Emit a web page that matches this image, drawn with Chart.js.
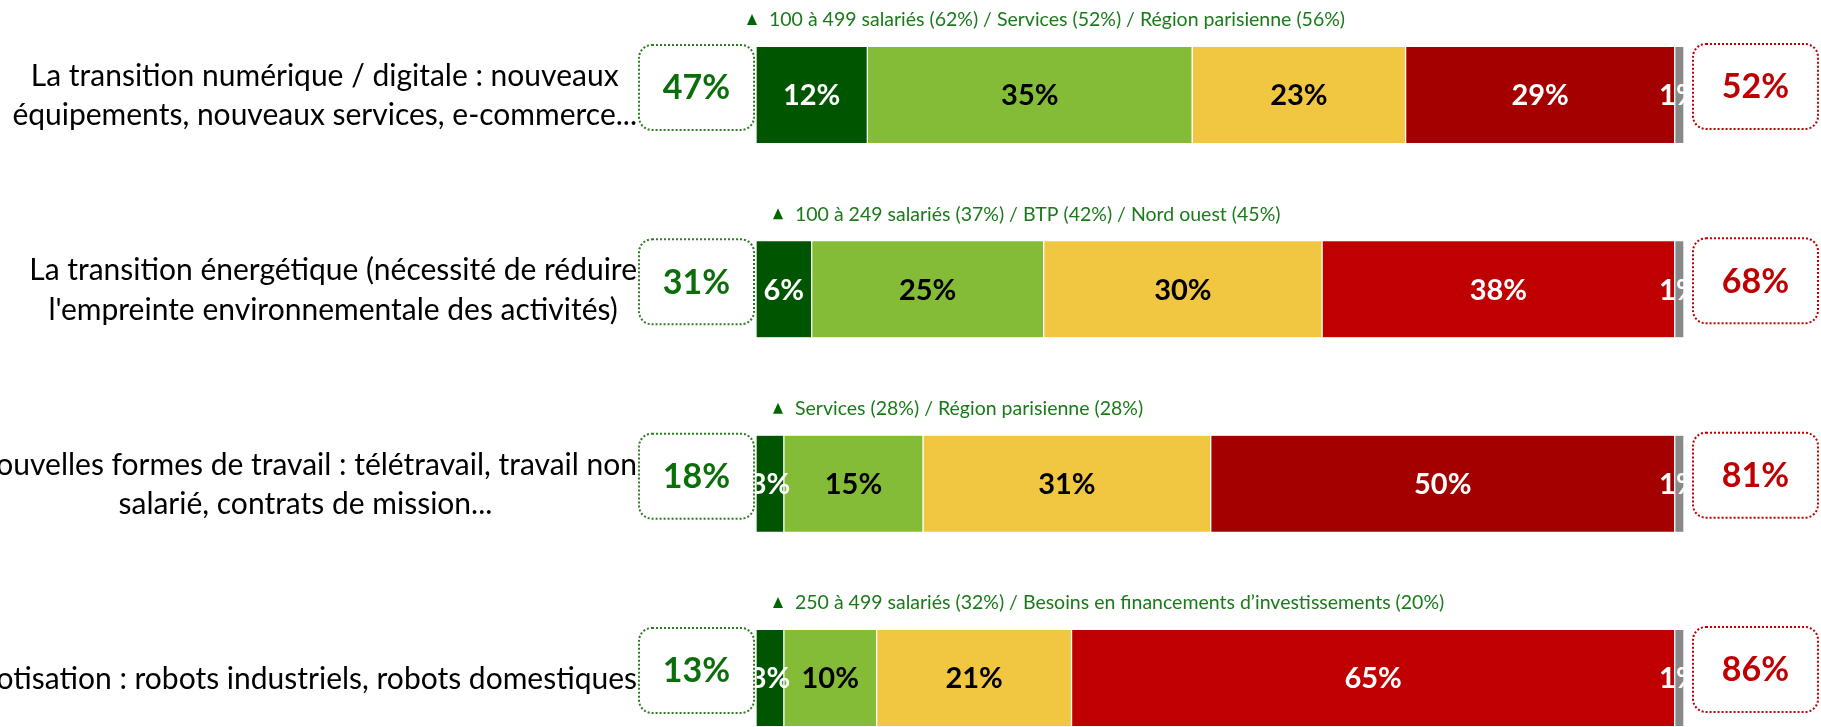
<!DOCTYPE html>
<html>
<head>
<meta charset="utf-8">
<script src="https://cdn.jsdelivr.net/npm/chart.js@4.4.0/dist/chart.umd.min.js"></script>
<style>
  html, body { margin: 0; padding: 0; background: #ffffff; }
  #c { display: block; }
</style>
</head>
<body>
<canvas id="c" width="1821" height="727"></canvas>
<script>
// ---------------- DATA ----------------
const categories = [
  ["La transition numérique / digitale : nouveaux", "équipements, nouveaux services, e-commerce..."],
  ["La transition énergétique (nécessité de réduire", "l'empreinte environnementale des activités)"],
  ["Nouvelles formes de travail : télétravail, travail non", "salarié, contrats de mission..."],
  ["Robotisation : robots industriels, robots domestiques"]
];
const seriesNames = ["Très important", "Assez important", "Peu important", "Pas du tout important", "Ne se prononce pas"];
const tresImportant   = [12, 6, 3, 3];
const assezImportant  = [35, 25, 15, 10];
const peuImportant    = [23, 30, 31, 21];
const pasImportant    = [29, 38, 50, 65];
const nsp             = [1, 1, 1, 1];
const subgroupNotes = [
  "100 à 499 salariés (62%) / Services (52%) / Région parisienne (56%)",
  "100 à 249 salariés (37%) / BTP (42%) / Nord ouest (45%)",
  "Services (28%) / Région parisienne (28%)",
  "250 à 499 salariés (32%) / Besoins en financements d’investissements (20%)"
];

// ---------------- STYLE ----------------
const FONT = "Lato, 'Open Sans', sans-serif";
const colDarkGreen = "#005500";
const colLightGreen = "#84BC37";
const colYellow = "#F1C742";
const redPerRow = ["#A50000", "#C00000", "#A50000", "#C00000"];
const colGray = "#898989";
const labelColors = ["#ffffff", "#000000", "#000000", "#ffffff", "#ffffff"];
const noteXOffset = [-4, 22, 22, 22];

const datasets = [
  { label: seriesNames[0], data: tresImportant, backgroundColor: colDarkGreen },
  { label: seriesNames[1], data: assezImportant, backgroundColor: colLightGreen },
  { label: seriesNames[2], data: peuImportant, backgroundColor: colYellow },
  { label: seriesNames[3], data: pasImportant, backgroundColor: redPerRow },
  { label: seriesNames[4], data: nsp, backgroundColor: colGray }
].map(d => Object.assign(d, {
  borderColor: "#ffffff",
  borderWidth: { left: 1, right: 1, top: 0, bottom: 0 },
  borderSkipped: false,
  barThickness: 96,
  clip: false
}));

function roundRect(ctx, x, y, w, h, r) {
  ctx.beginPath();
  ctx.moveTo(x + r, y);
  ctx.lineTo(x + w - r, y);
  ctx.arcTo(x + w, y, x + w, y + r, r);
  ctx.lineTo(x + w, y + h - r);
  ctx.arcTo(x + w, y + h, x + w - r, y + h, r);
  ctx.lineTo(x + r, y + h);
  ctx.arcTo(x, y + h, x, y + h - r, r);
  ctx.lineTo(x, y + r);
  ctx.arcTo(x, y, x + r, y, r);
  ctx.closePath();
}

const decorPlugin = {
  id: "decor",
  afterDatasetsDraw(chart) {
    const ctx = chart.ctx;
    const ca = chart.chartArea;
    const yScale = chart.scales.y;
    ctx.save();
    // segment value labels
    ctx.textAlign = "center";
    ctx.textBaseline = "middle";
    ctx.font = "bold 29px " + FONT;
    chart.data.datasets.forEach((ds, di) => {
      const meta = chart.getDatasetMeta(di);
      meta.data.forEach((el, i) => {
        const cx = (el.x + el.base) / 2;
        ctx.fillStyle = labelColors[di];
        ctx.fillText(ds.data[i] + "%", cx, el.y + 1);
      });
    });

    // boxes with sums
    const n = chart.data.labels.length;
    for (let i = 0; i < n; i++) {
      const el = chart.getDatasetMeta(0).data[i];
      const top = el.y - el.height / 2 - 2;
      const h = 85;
      const pos = tresImportant[i] + assezImportant[i];
      const neg = peuImportant[i] + pasImportant[i];
      // left green box
      let bx = ca.left - 117, bw = 115;
      ctx.setLineDash([2, 2]);
      ctx.lineWidth = 2;
      roundRect(ctx, bx, top, bw, h, 13);
      ctx.fillStyle = "#ffffff";
      ctx.fill();
      ctx.strokeStyle = "#2E7D22";
      ctx.stroke();
      ctx.fillStyle = "#0A6E0A";
      ctx.font = "bold 34px " + FONT;
      ctx.fillText(pos + "%", bx + bw / 2, top + h / 2 + 1);
      // right red box
      bx = ca.right + 9; bw = 125;
      roundRect(ctx, bx, top - 1, bw, h, 13);
      ctx.fillStyle = "#ffffff";
      ctx.fill();
      ctx.strokeStyle = "#C00000";
      ctx.stroke();
      ctx.fillStyle = "#C00000";
      ctx.fillText(neg + "%", bx + bw / 2, top - 1 + h / 2 + 1);
      ctx.setLineDash([]);

      // subgroup note above bar
      const ny = top + 2 - 27;
      const tx = ca.left + noteXOffset[i];
      ctx.fillStyle = "#006600";
      ctx.beginPath();
      ctx.moveTo(tx - 5, ny + 5);
      ctx.lineTo(tx + 5, ny + 5);
      ctx.lineTo(tx, ny - 6);
      ctx.closePath();
      ctx.fill();
      ctx.fillStyle = "#1A7A1A";
      ctx.font = "19.5px " + FONT;
      ctx.textAlign = "left";
      ctx.fillText(subgroupNotes[i], tx + 17, ny);
      ctx.textAlign = "center";

      // category labels on the left
      const lines = chart.data.labels[i];
      ctx.font = "30px " + FONT;
      ctx.fillStyle = "#000000";
      let maxW = 0;
      lines.forEach(l => { maxW = Math.max(maxW, ctx.measureText(l).width); });
      const cx = 637 - maxW / 2;
      const lh = 39.5;
      const cy = yScale.getPixelForValue(i);
      lines.forEach((l, k) => {
        ctx.fillText(l, cx, cy + (k - (lines.length - 1) / 2) * lh + 1);
      });
    }
    ctx.restore();
  }
};

new Chart(document.getElementById("c"), {
  type: "bar",
  data: { labels: categories, datasets: datasets },
  options: {
    indexAxis: "y",
    responsive: false,
    animation: false,
    events: [],
    layout: { padding: { left: 756, right: 137, top: 95, bottom: 49 } },
    scales: {
      x: { stacked: true, min: 0, max: 100, display: false },
      y: { stacked: true, offset: false, display: false }
    },
    plugins: {
      legend: { display: false },
      tooltip: { enabled: false }
    }
  },
  plugins: [decorPlugin]
});
</script>
</body>
</html>
